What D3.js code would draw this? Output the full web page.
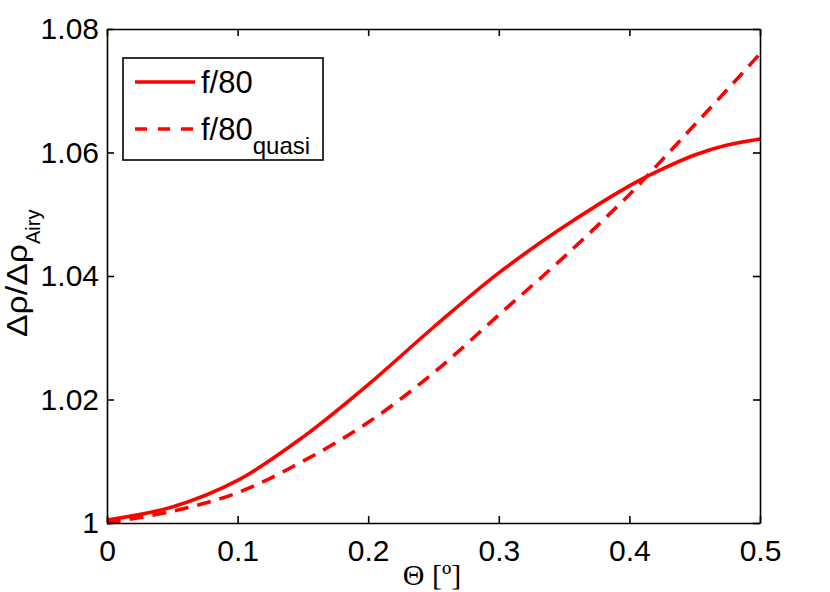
<!DOCTYPE html>
<html>
<head>
<meta charset="utf-8">
<script src="https://cdn.jsdelivr.net/npm/d3@7"></script>
<style>
  body { margin: 0; background: #fff; }
  svg { display: block; font-family: "Liberation Sans", Arial, sans-serif; }
</style>
</head>
<body>
<svg id="chart" width="830" height="592"></svg>
<script>
// values
var theta = [0, 0.05, 0.1, 0.15, 0.2, 0.25, 0.3, 0.35, 0.4, 0.425, 0.45, 0.475, 0.5];
var f80 = [1.0005, 1.0026, 1.0069, 1.0139, 1.0224, 1.0317, 1.0405, 1.0480, 1.0546, 1.0573, 1.0596, 1.0612, 1.0622];
var f80quasi = [1.0000, 1.0019, 1.0049, 1.0100, 1.0163, 1.0243, 1.0337, 1.0431, 1.0532, 1.0588, 1.0645, 1.0702, 1.0760];

var xTicks = [0, 0.1, 0.2, 0.3, 0.4, 0.5];
var xTickLabels = ["0", "0.1", "0.2", "0.3", "0.4", "0.5"];
var yTicks = [1, 1.02, 1.04, 1.06, 1.08];
var yTickLabels = ["1", "1.02", "1.04", "1.06", "1.08"];
var seriesNames = ["f/80", "f/80"];
var seriesSubs = ["", "quasi"];

var MARGINS = { left: 107, right: 70, top: 29, bottom: 69 };
var WIDTH = 830, HEIGHT = 592;
var RED = "#ff0000";

var vis = d3.select("#chart");

var xRange = d3.scaleLinear().domain([0, 0.5]).range([MARGINS.left, WIDTH - MARGINS.right]);
var yRange = d3.scaleLinear().domain([1, 1.08]).range([HEIGHT - MARGINS.bottom, MARGINS.top]);

// axes, MATLAB style: box on, ticks inward on all four sides
var xAxis = d3.axisBottom(xRange).tickValues(xTicks)
    .tickFormat(function (d, i) { return xTickLabels[i]; })
    .tickSizeInner(-7).tickSizeOuter(0).tickPadding(17);
var yAxis = d3.axisLeft(yRange).tickValues(yTicks)
    .tickFormat(function (d, i) { return yTickLabels[i]; })
    .tickSizeInner(-7).tickSizeOuter(0).tickPadding(8);
var xAxisTop = d3.axisTop(xRange).tickValues(xTicks).tickFormat("").tickSizeInner(-7).tickSizeOuter(0);
var yAxisRight = d3.axisRight(yRange).tickValues(yTicks).tickFormat("").tickSizeInner(-7).tickSizeOuter(0);

var lineFunc = function (ys) {
    return d3.line()
        .x(function (d, i) { return xRange(theta[i]); })
        .y(function (d) { return yRange(d); })
        .curve(d3.curveCatmullRom.alpha(0.5))(ys);
};

vis.append("path")
    .attr("d", lineFunc(f80))
    .attr("fill", "none").attr("stroke", RED).attr("stroke-width", 3.6);

vis.append("path")
    .attr("d", lineFunc(f80quasi))
    .attr("fill", "none").attr("stroke", RED).attr("stroke-width", 3.6)
    .attr("stroke-dasharray", "14,9");

var x2 = vis.append("g").attr("class", "xaxis")
    .attr("transform", "translate(0," + (HEIGHT - MARGINS.bottom) + ")").call(xAxis);
var y2 = vis.append("g").attr("class", "yaxis")
    .attr("transform", "translate(" + MARGINS.left + ",0)").call(yAxis);
vis.append("g").attr("transform", "translate(0," + MARGINS.top + ")").call(xAxisTop);
vis.append("g").attr("transform", "translate(" + (WIDTH - MARGINS.right) + ",0)").call(yAxisRight);

vis.selectAll(".domain, .tick line").attr("stroke", "#000").attr("stroke-width", 1.6);
vis.selectAll(".tick text")
    .attr("fill", "#000")
    .style("font-family", "'Liberation Sans', Arial, sans-serif")
    .style("font-size", "30px");

// x label
vis.append("text")
    .attr("class", "xlabel")
    .attr("text-anchor", "middle")
    .attr("x", 432)
    .attr("y", 585)
    .style("font-family", "'Liberation Serif', 'Times New Roman', serif")
    .style("font-size", "30px")
    .text("\u0398 [\u00ba]");

// y label with subscript
var ylab = vis.append("text")
    .attr("class", "ylabel")
    .attr("transform", "translate(27,337) rotate(-90)")
    .attr("text-anchor", "start")
    .style("font-size", "29px");
ylab.append("tspan")
    .attr("textLength", 93).attr("lengthAdjust", "spacingAndGlyphs")
    .text("\u0394\u03c1/\u0394\u03c1");
ylab.append("tspan").attr("dy", 13).style("font-size", "20px").text("Airy");

// legend
var legend = vis.append("g").attr("class", "legend");
legend.append("rect")
    .attr("x", 123).attr("y", 58).attr("width", 200).attr("height", 102)
    .attr("fill", "#fff").attr("stroke", "#000").attr("stroke-width", 1.6);

var legendY = [82, 129];
seriesNames.forEach(function (name, i) {
    legend.append("line")
        .attr("x1", 135).attr("x2", 195)
        .attr("y1", legendY[i]).attr("y2", legendY[i])
        .attr("stroke", RED).attr("stroke-width", 3.6)
        .attr("stroke-dasharray", i === 1 ? "12,11" : null);
    var t = legend.append("text")
        .attr("x", 201).attr("y", legendY[i] + 11)
        .style("font-size", "31px")
        .text(name);
    if (seriesSubs[i]) {
        t.append("tspan").attr("dy", 14).style("font-size", "24px").text(seriesSubs[i]);
    }
});
</script>
</body>
</html>
